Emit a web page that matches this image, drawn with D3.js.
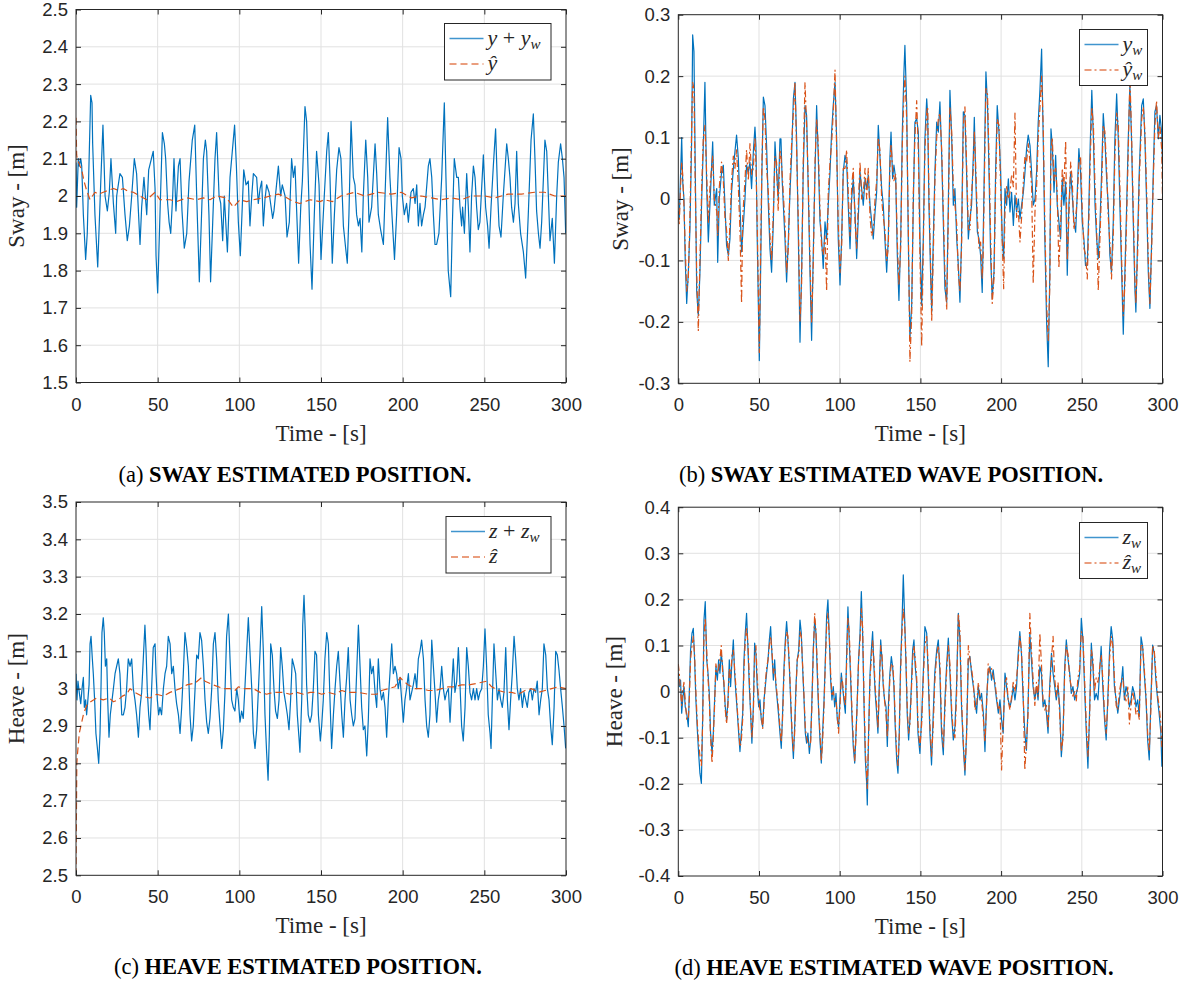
<!DOCTYPE html>
<html>
<head>
<meta charset="utf-8">
<script src="https://cdn.jsdelivr.net/npm/d3@7"></script>
<style>
body { margin: 0; background: #fff; }
</style>
</head>
<body>
<svg id="fig" width="1185" height="984"></svg>
<script>
// tick values
var timeTicks = [0, 50, 100, 150, 200, 250, 300]
var swayTicks = [1.5, 1.6, 1.7, 1.8, 1.9, 2, 2.1, 2.2, 2.3, 2.4, 2.5]
var swayWaveTicks = [-0.3, -0.2, -0.1, 0, 0.1, 0.2, 0.3]
var heaveTicks = [2.5, 2.6, 2.7, 2.8, 2.9, 3, 3.1, 3.2, 3.3, 3.4, 3.5]
var heaveWaveTicks = [-0.4, -0.3, -0.2, -0.1, 0, 0.1, 0.2, 0.3, 0.4]

// (a) measured sway y + y_w  [t, m]
var swayMeas = [[0,2.09],[0.4,1.97],[1.4,2.1],[2.0,2.08],[2.9,2.1],[3.5,2.08],[4.5,1.95],[5.9,1.83],[6.9,1.9],[9.0,2.27],[9.8,2.25],[10.2,2.14],[11.6,1.95],[13.3,1.81],[15.1,2.03],[15.7,2.1],[16.5,2.19],[17.8,2.0],[19.2,1.96],[20.4,2.01],[21.4,2.1],[22.9,1.98],[24.3,1.9],[24.9,2.0],[26.9,2.06],[28.4,2.05],[30.0,1.95],[31.4,1.88],[32.7,1.92],[34.1,2.0],[35.7,2.1],[37.1,2.06],[39.2,1.87],[40.2,1.97],[41.6,2.05],[43.3,1.95],[44.5,2.07],[47.3,2.12],[48.4,2.02],[49.0,1.84],[50.0,1.74],[51.4,1.95],[52.9,2.17],[54.1,2.14],[54.9,2.1],[56.1,1.98],[57.0,1.93],[58.0,1.9],[59.2,2.0],[60.0,2.1],[61.2,1.96],[62.7,2.08],[63.7,2.1],[64.9,1.96],[66.3,1.86],[67.8,1.9],[69.2,2.04],[71.2,2.15],[72.7,2.19],[73.9,2.0],[75.5,1.77],[76.5,1.9],[78.0,2.1],[79.2,2.15],[80.0,2.12],[81.4,1.95],[82.4,1.77],[83.7,1.93],[85.1,2.1],[86.1,2.17],[87.6,2.0],[88.6,1.98],[89.8,1.88],[90.8,2.0],[92.7,1.85],[94.3,2.05],[97.1,2.19],[98.2,2.08],[99.4,1.93],[100.6,1.84],[101.6,1.95],[102.7,2.07],[104.1,2.03],[105.5,2.04],[106.5,1.92],[107.6,2.0],[108.6,2.06],[110.6,2.05],[111.6,1.98],[112.7,2.02],[113.7,2.04],[114.7,1.92],[115.7,1.99],[116.7,2.03],[118.2,2.01],[120.4,1.94],[121.2,1.96],[123.9,2.08],[125.3,2.0],[126.3,2.03],[128.0,2.0],[129.2,1.89],[130.6,1.93],[132.0,2.1],[133.1,2.05],[134.1,2.08],[135.1,1.96],[136.3,1.82],[137.6,1.97],[138.6,2.04],[140.2,2.24],[141.2,2.2],[142.2,2.05],[143.3,1.87],[144.5,1.75],[145.9,1.95],[147.3,2.12],[148.8,2.03],[150.0,1.83],[152.0,2.0],[153.5,2.12],[154.5,2.17],[155.5,2.05],[156.9,1.82],[158.2,1.95],[159.6,2.07],[161.0,2.13],[162.2,2.1],[163.7,1.92],[165.1,1.86],[166.1,1.82],[167.1,1.95],[168.4,2.2],[169.8,2.05],[170.8,2.03],[171.8,1.95],[172.9,1.92],[173.9,1.94],[175.0,1.85],[175.9,2.0],[177.4,2.15],[178.6,2.05],[179.4,1.93],[181.0,1.97],[183.1,2.14],[184.1,2.06],[185.1,1.95],[186.5,1.91],[188.2,1.87],[189.2,2.0],[190.8,2.21],[192.2,2.05],[193.7,1.93],[195.0,1.83],[196.3,1.95],[197.8,2.13],[199.0,2.1],[199.8,2.0],[201.0,1.95],[202.4,1.98],[203.5,1.93],[205.1,2.01],[206.5,2.02],[207.6,1.98],[208.6,2.03],[209.6,1.92],[210.6,1.98],[211.6,1.92],[212.7,1.95],[213.7,1.97],[215.7,2.08],[216.7,2.1],[217.8,2.05],[218.8,1.95],[219.8,1.87],[220.8,1.87],[222.2,1.9],[223.9,2.05],[225.5,2.25],[226.5,2.05],[227.9,1.8],[229.4,1.73],[230.4,1.92],[231.6,2.1],[233.1,2.05],[234.1,2.05],[235.1,1.97],[236.1,1.92],[236.7,1.97],[237.8,1.9],[239.2,2.06],[240.2,1.97],[241.2,1.85],[242.2,2.0],[243.3,2.08],[244.3,2.05],[245.3,1.97],[246.3,1.91],[247.3,1.93],[249.4,2.11],[250.8,1.97],[252.0,1.92],[252.9,1.86],[254.1,1.97],[255.5,2.08],[256.9,2.18],[258.2,2.0],[259.0,1.92],[260.2,1.89],[261.6,2.0],[263.7,2.14],[264.7,2.1],[265.7,2.05],[266.7,1.97],[267.8,1.93],[268.8,1.98],[269.8,2.12],[270.8,1.98],[272.2,1.9],[273.9,1.85],[275.3,1.78],[276.9,1.95],[278.6,2.15],[280.0,2.22],[281.0,2.1],[282.0,1.96],[283.1,1.9],[284.1,1.86],[285.1,1.93],[287.1,2.15],[288.2,2.12],[289.2,2.0],[290.2,1.88],[291.6,1.94],[292.9,1.82],[294.3,2.0],[295.3,2.09],[296.7,2.14],[297.8,2.1],[298.8,2.05],[299.8,1.9]]

// (a) estimated sway y-hat
var swayHat = [[0,2.21],[0.4,2.11],[0.8,2.1],[2.5,2.08],[3.5,2.07],[4.9,2.04],[6.5,2.015],[8.6,1.99],[11.6,2.01],[14.0,2.005],[16.7,2.01],[19.5,2.015],[22.9,2.02],[26.0,2.015],[29,2.02],[32.0,2.012],[35.1,2.01],[39.2,2.0],[43.3,1.99],[48.4,2.01],[51.4,1.99],[57.6,1.99],[61.6,1.985],[67.8,1.995],[73.9,1.99],[78.0,1.995],[82,1.99],[86.1,2.0],[92.2,1.995],[96.3,1.97],[100.4,1.99],[104.5,1.985],[108.6,1.99],[114.7,1.995],[118.8,2.0],[123.9,2.005],[127,2.0],[133.1,1.985],[137.1,1.98],[143.3,1.99],[149.4,1.985],[152.0,1.99],[157.1,1.985],[162.2,2.0],[166.3,2.005],[170.6,2.01],[176.7,2.0],[180.8,2.005],[184.9,2.01],[193.1,2.005],[199.2,2.01],[205.3,1.995],[211.4,2.0],[217.6,1.995],[223.7,1.99],[229.8,1.995],[235.9,1.99],[242,2.0],[250.2,2.0],[256.3,1.995],[264.5,2.005],[272.7,2.005],[280.8,2.01],[286.9,2.01],[293.1,2.0],[300,2.0]]

// (b) wave sway: t, y_w, y_w-hat
var swayWave = [[0,-0.02,-0.03],[0.6,-0.03,-0.04],[1.4,0.04,0.02],[2.1,0.10,0.06],[2.7,0.03,0.04],[3.5,0.0,-0.01],[4.3,-0.10,-0.08],[5.2,-0.17,-0.15],[6.2,-0.12,-0.13],[7.2,-0.05,-0.03],[8.3,0.10,0.12],[8.9,0.267,0.19],[9.7,0.24,0.18],[10.5,0.05,0.02],[11.4,-0.15,-0.12],[12.4,-0.19,-0.215],[13.4,-0.12,-0.1],[14.5,0.0,0.02],[15.5,0.087,0.1],[16.5,0.19,0.12],[17.6,0.017,0.04],[18.6,-0.07,-0.04],[19.6,-0.01,0.02],[21.3,0.093,0.07],[22.3,-0.01,0.0],[23.8,0.017,-0.02],[24.4,-0.103,-0.06],[25.4,0.0,0.02],[26.8,0.044,0.06],[27.9,0.055,0.03],[28.9,-0.01,-0.03],[29.9,-0.075,-0.05],[31.0,-0.092,-0.1],[32.0,-0.065,-0.04],[33.0,0.011,0.03],[34.1,0.049,0.07],[35.1,0.077,0.05],[36.1,0.104,0.08],[37.2,0.066,0.02],[38.2,-0.01,-0.05],[39.2,-0.086,-0.17],[39.9,-0.059,-0.03],[41.3,0.0,0.03],[42.3,0.055,0.08],[43.4,0.044,0.03],[44.4,0.06,0.09],[45.4,0.017,0.04],[46.5,0.077,0.05],[47.5,0.117,0.1],[48.1,0.087,0.06],[48.9,-0.065,-0.04],[49.6,-0.173,-0.15],[50.2,-0.263,-0.25],[51.0,-0.119,-0.09],[51.8,0.044,0.06],[52.7,0.166,0.15],[53.7,0.152,0.13],[54.7,0.087,0.05],[55.8,-0.01,0.01],[56.8,-0.081,-0.06],[57.8,-0.119,-0.1],[58.9,-0.037,-0.02],[59.9,0.093,0.07],[60.9,0.044,0.06],[61.9,0.0,-0.02],[63.0,0.098,0.08],[63.6,0.098,0.07],[64.4,0.028,0.04],[66.1,-0.065,-0.04],[67.1,-0.135,-0.12],[68.2,-0.065,-0.08],[69.2,0.011,0.03],[70.2,0.071,0.09],[71.3,0.163,0.14],[72.3,0.19,0.19],[73.3,0.098,0.08],[74.4,-0.065,-0.04],[75.4,-0.233,-0.2],[76.4,-0.119,-0.14],[77.4,0.044,0.06],[78.5,0.152,0.19],[79.5,0.136,0.12],[80.5,0.017,0.03],[81.6,-0.119,-0.1],[82.6,-0.23,-0.2],[83.6,-0.092,-0.11],[84.7,0.044,0.06],[85.7,0.152,0.13],[86.7,0.071,0.09],[87.8,-0.037,-0.02],[88.8,-0.065,-0.08],[89.8,-0.113,-0.09],[90.9,-0.037,-0.06],[91.9,-0.065,-0.15],[92.9,-0.01,0.01],[94.0,0.044,0.06],[95.0,0.109,0.09],[96.0,0.152,0.14],[97.1,0.19,0.21],[98.1,0.098,0.08],[99.1,-0.065,-0.04],[100.2,-0.14,-0.12],[101.2,-0.065,-0.08],[102.2,0.044,0.05],[103.3,0.071,0.05],[104.3,0.06,0.08],[105.3,-0.01,0.01],[106.4,-0.081,-0.06],[107.4,0.0,0.02],[108.4,0.033,0.05],[109.5,-0.021,-0.04],[110.5,-0.097,-0.08],[111.5,-0.032,-0.01],[112.6,0.044,0.06],[113.6,0.017,0.0],[114.6,-0.01,0.01],[115.7,0.033,0.05],[116.7,0.017,0.0],[117.7,0.039,0.05],[118.8,-0.01,-0.03],[119.8,-0.037,-0.06],[120.8,-0.065,-0.05],[121.9,-0.021,0.0],[122.9,0.011,0.03],[123.9,0.12,0.1],[124.9,0.071,0.08],[126.0,0.017,0.0],[127.0,-0.01,-0.03],[128.0,-0.065,-0.05],[129.1,-0.119,-0.1],[130.1,-0.065,-0.08],[131.1,0.066,0.05],[131.8,0.109,0.09],[132.8,0.033,0.05],[133.6,0.055,0.03],[134.7,0.033,0.04],[135.7,-0.092,-0.07],[136.7,-0.165,-0.14],[137.8,-0.065,-0.08],[138.8,0.109,0.09],[139.8,0.207,0.17],[140.4,0.25,0.2],[141.5,0.152,0.13],[142.5,-0.065,-0.04],[143.5,-0.227,-0.265],[144.6,-0.173,-0.19],[145.6,-0.01,0.01],[146.6,0.125,0.1],[147.7,0.131,0.16],[148.7,0.109,0.08],[149.7,-0.065,-0.09],[150.8,-0.173,-0.24],[151.8,-0.065,-0.08],[152.8,0.098,0.08],[153.9,0.163,0.14],[154.5,0.136,0.15],[155.3,-0.01,0.01],[156.3,-0.119,-0.1],[157.0,-0.184,-0.2],[158.0,-0.065,-0.09],[159.0,0.044,0.03],[160.1,0.125,0.1],[161.1,0.109,0.13],[162.1,0.158,0.14],[163.2,0.071,0.08],[164.2,-0.037,-0.02],[165.2,-0.146,-0.12],[166.3,-0.168,-0.18],[167.3,-0.01,-0.03],[168.3,0.177,0.15],[169.4,0.098,0.11],[170.4,-0.01,0.02],[171.4,0.017,-0.01],[172.5,-0.065,-0.04],[173.5,-0.108,-0.12],[174.5,-0.168,-0.15],[175.5,-0.065,-0.08],[176.6,0.142,0.12],[177.6,0.136,0.15],[178.6,0.044,0.06],[179.7,-0.065,-0.05],[180.7,-0.032,-0.05],[181.7,-0.01,0.01],[182.8,0.071,0.05],[183.4,0.133,0.11],[184.2,0.044,0.06],[185.3,-0.054,-0.03],[186.3,-0.065,-0.08],[187.3,-0.092,-0.07],[188.3,-0.152,-0.13],[188.9,-0.065,-0.09],[189.9,0.098,0.07],[190.6,0.207,0.18],[191.6,0.152,0.17],[192.5,0.044,0.07],[193.5,-0.092,-0.06],[194.5,-0.162,-0.17],[195.6,-0.119,-0.13],[196.6,0.044,0.02],[197.6,0.152,0.13],[198.7,0.109,0.12],[199.7,0.044,0.02],[200.7,-0.065,-0.07],[201.6,-0.097,-0.146],[202.4,0.017,-0.02],[203.4,-0.01,0.02],[204.5,0.033,0.0],[205.5,-0.021,0.01],[206.5,0.011,0.04],[207.6,-0.043,0.02],[208.6,0.006,0.14],[209.6,-0.021,-0.03],[210.7,0.0,-0.02],[211.7,-0.032,-0.07],[212.7,-0.01,-0.03],[213.8,0.011,0.03],[214.8,0.044,0.07],[215.8,0.082,0.06],[216.8,0.104,0.09],[217.9,0.087,0.06],[218.9,0.044,0.02],[219.9,-0.01,-0.138],[221.0,0.0,-0.02],[222.0,0.044,0.02],[223.0,0.125,0.1],[224.1,0.179,0.15],[225.1,0.244,0.2],[226.1,0.098,0.12],[227.1,-0.065,-0.04],[228.2,-0.2,-0.17],[229.2,-0.273,-0.23],[230.2,-0.119,-0.14],[230.9,0.114,0.08],[231.7,0.087,0.1],[232.8,0.011,0.03],[233.8,0.071,0.05],[234.8,-0.01,0.01],[235.8,-0.037,-0.113],[236.9,-0.065,-0.04],[237.9,0.033,0.05],[238.9,-0.01,0.02],[240.0,0.028,0.095],[241.0,-0.124,-0.1],[242.0,-0.01,-0.03],[243.1,0.044,0.06],[244.1,0.006,0.03],[245.1,-0.037,-0.05],[246.2,-0.054,-0.03],[247.2,0.011,0.0],[248.2,0.082,0.06],[249.2,0.044,0.07],[250.3,-0.037,-0.02],[251.3,-0.065,-0.08],[252.3,-0.108,-0.09],[253.4,-0.108,-0.13],[254.4,-0.01,-0.03],[255.2,0.087,0.06],[256.2,0.177,0.15],[257.2,0.098,0.12],[258.2,-0.01,0.02],[259.2,-0.065,-0.05],[260.2,-0.097,-0.149],[261.3,-0.037,-0.06],[262.3,0.044,0.02],[263.3,0.139,0.12],[264.3,0.098,0.11],[265.4,0.033,0.05],[266.4,-0.01,-0.03],[267.4,-0.092,-0.07],[268.4,-0.119,-0.13],[269.5,-0.037,-0.06],[270.5,0.098,0.07],[271.6,0.171,0.14],[272.6,0.098,0.12],[273.6,-0.01,0.02],[274.7,-0.119,-0.1],[275.7,-0.22,-0.19],[276.7,-0.119,-0.14],[277.8,-0.01,-0.03],[278.8,0.098,0.08],[279.8,0.185,0.2],[280.8,0.098,0.11],[281.9,-0.037,-0.02],[282.9,-0.146,-0.13],[283.5,-0.184,-0.17],[284.6,-0.065,-0.09],[285.6,0.044,0.03],[287.1,0.152,0.13],[288.1,0.163,0.15],[289.1,0.098,0.11],[290.2,-0.01,0.01],[291.2,-0.119,-0.1],[292.2,-0.178,-0.17],[293.3,-0.065,-0.08],[294.3,0.044,0.03],[295.3,0.142,0.12],[296.3,0.152,0.16],[297.4,0.098,0.1],[298.4,0.136,0.12],[299.5,0.109,0.08],[300.0,0.055,0.0]]

// (c) measured heave z + z_w
var heaveMeas = [[0,3.04],[0.6,2.97],[1.2,3.02],[2.0,2.99],[2.9,2.96],[3.7,3.0],[4.5,3.03],[5.1,2.95],[5.9,2.97],[6.5,2.93],[7.1,2.96],[8.0,3.01],[8.6,3.12],[9.2,3.14],[10.0,3.08],[10.6,3.04],[11.4,2.97],[12.2,2.88],[13.1,2.84],[13.9,2.8],[14.7,2.88],[15.3,3.0],[15.9,3.15],[16.7,3.19],[17.3,3.15],[18.0,3.06],[18.8,3.08],[19.4,2.97],[20.2,2.87],[21.0,2.93],[21.8,2.96],[22.9,3.0],[23.9,3.04],[24.9,3.06],[25.9,3.08],[26.9,3.04],[28.0,2.93],[29.0,2.93],[30.0,2.95],[31.0,3.0],[32.0,3.08],[33.1,3.06],[34.1,3.08],[35.1,3.0],[36.1,2.97],[37.1,2.93],[38.2,2.87],[39.2,2.95],[40.2,2.99],[41.2,3.08],[42.2,3.17],[42.9,3.1],[43.7,2.99],[44.5,2.93],[45.3,2.89],[46.3,3.0],[47.3,3.11],[48.4,3.12],[49.0,3.04],[49.8,2.97],[50.6,2.93],[51.4,2.95],[52.4,2.93],[53.5,3.0],[54.5,3.04],[55.5,3.06],[56.5,3.14],[57.6,3.12],[58.6,3.04],[59.6,3.06],[60.6,3.0],[61.6,2.96],[62.7,2.93],[63.7,2.88],[64.7,2.95],[65.7,3.04],[66.7,3.15],[67.8,3.11],[68.8,3.06],[69.8,2.93],[70.8,2.86],[71.8,2.9],[72.9,3.0],[73.9,3.09],[74.9,3.08],[75.9,3.15],[76.9,3.13],[78.0,3.06],[79.0,2.97],[80.0,2.91],[81.0,2.88],[82.0,2.92],[83.1,3.0],[84.1,3.12],[85.1,3.15],[86.1,3.08],[87.1,2.97],[88.2,2.9],[89.2,2.84],[90.2,2.89],[91.2,2.99],[92.2,3.14],[93.3,3.2],[94.3,3.08],[95.3,2.97],[96.3,2.95],[97.3,2.94],[98.4,3.0],[99.4,2.97],[100.4,2.91],[101.4,2.94],[102.4,2.92],[103.5,3.01],[104.5,3.1],[105.5,3.19],[106.5,3.1],[107.6,3.0],[108.6,2.88],[109.6,2.84],[110.6,2.89],[111.6,2.99],[112.7,3.1],[113.7,3.22],[114.7,3.1],[115.7,2.93],[116.7,2.83],[117.6,2.755],[118.4,2.88],[119.2,3.12],[120.2,3.09],[121.2,3.0],[122.2,2.94],[123.3,2.92],[124.3,2.97],[125.3,3.11],[126.3,3.06],[127.3,2.99],[128.4,2.96],[129.4,2.93],[130.4,2.89],[131.4,2.97],[132.4,3.08],[133.5,3.06],[134.5,3.04],[135.5,2.93],[136.5,2.87],[137.1,2.83],[138.2,2.97],[138.8,3.17],[139.6,3.25],[140.4,3.15],[141.2,3.01],[142.2,2.93],[143.3,2.91],[144.3,2.93],[145.3,3.0],[146.3,3.1],[147.3,3.09],[148.4,2.93],[149.6,2.86],[150.4,2.9],[151.4,2.97],[152.4,3.08],[153.5,3.15],[154.5,3.12],[155.5,2.97],[156.5,2.84],[157.6,2.93],[158.6,3.0],[159.6,3.06],[160.6,3.1],[161.6,3.02],[162.7,2.93],[163.7,2.87],[164.7,2.97],[165.7,3.03],[166.7,3.11],[167.8,2.97],[168.8,2.93],[169.8,2.9],[170.8,2.92],[171.8,3.04],[172.9,3.17],[173.9,3.06],[174.9,2.95],[175.9,2.89],[176.9,2.9],[178.0,2.82],[179.0,2.92],[180.0,3.08],[181.0,3.04],[182.0,3.06],[183.1,2.99],[184.1,2.95],[185.1,3.08],[186.1,3.0],[187.1,2.97],[188.2,2.99],[189.2,2.95],[190.2,2.87],[191.2,2.97],[192.2,3.04],[193.3,3.12],[194.3,3.04],[195.3,3.06],[196.3,3.04],[197.3,3.0],[198.4,3.03],[199.4,2.97],[200.4,2.91],[201.4,2.97],[202.4,3.0],[203.5,3.04],[204.5,2.97],[205.5,2.99],[206.5,3.01],[207.6,3.04],[208.6,3.0],[209.6,3.08],[210.6,3.1],[211.6,3.13],[212.7,3.08],[213.7,2.97],[214.7,2.9],[215.7,2.87],[216.7,2.93],[217.8,3.13],[218.8,3.06],[219.8,2.99],[220.8,2.91],[221.8,2.97],[222.9,3.0],[223.9,3.06],[224.9,3.0],[225.9,2.97],[226.9,2.99],[228.0,3.0],[229.0,2.91],[230.0,3.0],[231.0,3.08],[232.0,2.99],[233.1,3.02],[234.1,3.11],[235.1,3.01],[236.1,2.9],[237.1,2.86],[238.2,2.95],[239.2,3.11],[240.2,3.06],[241.2,2.99],[242.2,2.97],[243.3,3.0],[244.3,2.97],[245.3,3.0],[246.3,2.97],[247.3,2.99],[248.4,3.0],[249.4,3.06],[250.4,3.16],[251.4,3.06],[252.4,2.93],[253.5,2.88],[254.1,2.84],[254.9,2.97],[255.9,3.12],[257.0,3.04],[258.0,2.97],[259.0,3.0],[260.0,2.97],[261.0,2.95],[262.0,2.99],[263.1,3.11],[264.1,2.97],[265.1,2.89],[266.1,2.97],[267.1,3.04],[268.2,3.14],[269.2,3.08],[270.2,3.0],[271.2,2.97],[272.2,3.0],[273.3,2.95],[274.3,2.99],[275.3,2.97],[276.3,2.95],[277.3,2.99],[278.4,3.0],[279.4,2.97],[280.4,3.0],[281.4,2.99],[282.4,3.02],[283.5,2.93],[284.5,2.97],[285.5,3.0],[286.5,3.12],[287.6,3.09],[288.6,3.0],[289.6,2.97],[290.6,2.9],[291.6,2.85],[292.7,2.95],[293.7,3.1],[294.7,3.09],[295.7,3.05],[296.7,3.0],[297.8,2.95],[298.8,2.9],[299.8,2.84]]

// (c) estimated heave z-hat
var heaveHat = [[0,2.5],[0.5,2.8],[1.0,2.83],[2.0,2.88],[3.0,2.9],[4.5,2.93],[6.5,2.955],[9,2.965],[12.6,2.975],[16.7,2.97],[20.4,2.975],[22.9,2.965],[25.9,2.97],[28.4,2.98],[31.0,2.985],[33.1,3.0],[36.1,2.99],[40.2,2.98],[45.3,2.975],[49.4,2.985],[53.5,2.98],[57.6,2.99],[63.7,3.0],[67.8,3.01],[72.9,3.015],[76.9,3.03],[79.0,3.02],[84.1,3.01],[90.2,3.0],[94.3,3.0],[97.3,2.995],[99.4,3.005],[102.4,3.0],[108.6,3.0],[112.7,2.99],[116.7,2.985],[120.8,2.99],[126.9,2.99],[131.0,2.985],[135.1,2.99],[139.2,2.985],[143.3,2.99],[147.3,2.99],[150.4,2.985],[154.5,2.99],[158.6,2.985],[162.7,2.995],[166.7,2.99],[172.9,2.99],[179.0,2.985],[184.1,2.985],[187.1,2.995],[191.2,3.0],[195.3,3.005],[198.4,3.03],[200.4,3.02],[203.5,3.01],[207.6,3.0],[211.6,3.0],[215.7,2.995],[219.8,2.995],[223.9,3.0],[228.0,3.005],[232.0,3.005],[236.1,3.01],[240.2,3.01],[246.3,3.015],[251.4,3.02],[254.5,3.005],[258.6,2.995],[262.7,2.99],[266.7,2.99],[270.8,2.985],[274.9,2.995],[279.0,3.0],[283.1,2.99],[287.1,2.995],[291.2,3.0],[295.3,3.005],[300,3.0]]

// (d) wave heave: t, z_w, z_w-hat
var heaveWave = [[0,0.04,0.06],[0.6,0.011,0.04],[1.4,0.025,0.0],[2.1,-0.047,-0.03],[2.7,-0.018,0.0],[3.5,0.011,0.02],[4.3,-0.033,-0.02],[5.2,-0.047,-0.06],[6.2,-0.076,-0.06],[6.8,-0.004,-0.02],[7.6,0.09,0.07],[8.5,0.127,0.1],[9.3,0.137,0.12],[10.1,0.069,0.08],[10.9,-0.018,0.0],[11.8,-0.083,-0.07],[12.6,-0.134,-0.11],[13.4,-0.177,-0.14],[14.3,-0.199,-0.16],[15.1,-0.054,-0.07],[15.9,0.155,0.12],[16.7,0.195,0.16],[17.6,0.069,0.09],[18.4,0.04,0.03],[19.2,-0.004,-0.02],[20.0,-0.09,-0.1],[20.9,-0.134,-0.155],[21.7,-0.09,-0.1],[22.5,-0.018,-0.03],[23.3,0.054,0.06],[24.2,0.025,0.04],[25.0,0.069,0.05],[25.8,0.04,0.07],[26.6,0.083,0.1],[27.5,0.054,0.04],[28.3,0.011,0.02],[29.1,-0.033,-0.04],[29.9,-0.061,-0.07],[30.8,-0.018,-0.03],[31.6,0.069,0.05],[32.4,0.011,0.03],[33.3,0.069,0.08],[34.1,0.112,0.09],[34.9,0.04,0.05],[35.7,-0.004,0.01],[36.6,-0.047,-0.04],[37.4,-0.09,-0.08],[38.2,-0.13,-0.12],[39.0,-0.09,-0.11],[39.9,-0.047,-0.06],[40.7,0.069,0.05],[41.5,0.127,0.11],[42.3,0.17,0.14],[43.2,0.09,0.1],[44.0,0.011,0.03],[44.8,-0.047,-0.04],[45.6,-0.112,-0.1],[46.5,-0.033,-0.05],[47.3,0.105,0.08],[48.1,0.083,0.1],[48.9,0.011,0.03],[49.8,-0.033,-0.02],[50.6,-0.018,-0.04],[51.4,-0.061,-0.05],[52.3,-0.076,-0.08],[53.1,-0.018,-0.03],[53.9,0.011,0.02],[54.7,0.04,0.05],[55.6,0.069,0.07],[56.4,0.112,0.1],[57.2,0.141,0.12],[58.0,0.083,0.09],[58.9,0.025,0.04],[59.7,0.069,0.05],[60.5,0.011,0.02],[61.3,-0.018,-0.01],[62.2,-0.054,-0.04],[63.0,-0.09,-0.08],[63.8,-0.123,-0.11],[64.6,-0.047,-0.06],[65.5,0.054,0.04],[66.3,0.112,0.1],[67.1,0.152,0.13],[67.9,0.112,0.12],[68.8,0.054,0.06],[69.6,-0.018,-0.01],[70.4,-0.09,-0.08],[71.3,-0.145,-0.13],[72.1,-0.076,-0.09],[72.9,0.011,0.0],[73.7,0.069,0.07],[74.6,0.09,0.08],[75.4,0.155,0.13],[76.2,0.127,0.12],[77.0,0.054,0.06],[77.9,-0.018,-0.01],[78.7,-0.09,-0.08],[79.5,-0.112,-0.1],[80.3,-0.09,-0.11],[81.2,-0.134,-0.12],[82.0,-0.105,-0.11],[82.8,-0.018,-0.03],[83.6,0.09,0.08],[84.5,0.155,0.17],[85.3,0.127,0.13],[86.1,0.04,0.06],[87.0,-0.047,-0.04],[87.8,-0.105,-0.09],[88.6,-0.155,-0.15],[89.4,-0.09,-0.11],[90.3,-0.018,-0.03],[91.1,0.069,0.06],[91.9,0.163,0.14],[92.7,0.199,0.17],[93.6,0.112,0.12],[94.4,0.025,0.04],[95.2,-0.018,-0.01],[96.0,0.011,0.0],[96.9,-0.033,-0.02],[97.7,-0.004,-0.02],[98.5,-0.061,-0.05],[99.3,-0.076,-0.09],[100.2,-0.018,-0.03],[101.0,0.04,0.03],[101.8,0.011,0.02],[102.6,-0.018,-0.01],[103.5,-0.047,-0.03],[104.3,0.083,0.06],[105.1,0.184,0.16],[105.9,0.112,0.13],[106.8,0.025,0.04],[107.6,-0.054,-0.04],[108.4,-0.119,-0.1],[109.3,-0.155,-0.15],[110.1,-0.09,-0.1],[110.9,-0.018,-0.02],[111.7,0.069,0.07],[112.6,0.127,0.11],[113.4,0.217,0.18],[114.2,0.127,0.14],[115.0,-0.018,0.0],[115.9,-0.148,-0.13],[116.7,-0.199,-0.18],[117.1,-0.246,-0.21],[117.9,-0.09,-0.1],[118.8,0.04,0.03],[119.6,0.09,0.07],[120.4,0.13,0.11],[121.2,0.054,0.07],[122.0,-0.004,0.01],[122.9,-0.047,-0.03],[123.7,-0.09,-0.08],[124.5,0.011,0.0],[125.4,0.112,0.1],[126.2,0.069,0.08],[127.0,0.011,0.02],[127.8,-0.018,-0.02],[128.7,-0.033,-0.05],[129.5,-0.119,-0.1],[130.3,-0.018,-0.04],[131.1,0.04,0.03],[132.0,0.076,0.06],[132.8,0.054,0.06],[133.6,0.011,0.02],[134.4,-0.076,-0.06],[135.3,-0.148,-0.13],[136.1,-0.177,-0.16],[136.9,-0.09,-0.1],[137.7,0.054,0.04],[138.6,0.148,0.13],[139.4,0.253,0.18],[140.2,0.163,0.15],[141.1,0.054,0.07],[141.9,-0.054,-0.04],[142.7,-0.105,-0.09],[143.5,-0.061,-0.07],[144.4,0.011,0.0],[145.2,0.09,0.07],[146.0,0.112,0.1],[146.8,0.054,0.07],[147.7,0.018,0.03],[148.5,-0.09,-0.07],[149.7,-0.134,-0.12],[150.8,-0.054,-0.07],[151.8,0.04,0.03],[152.8,0.141,0.1],[153.9,0.127,0.12],[154.8,0.04,0.06],[155.9,-0.09,-0.07],[156.9,-0.159,-0.14],[157.9,-0.054,-0.08],[158.9,0.04,0.02],[160.1,0.09,0.08],[161.1,0.112,0.1],[162.1,0.04,0.06],[163.1,-0.09,-0.07],[164.2,-0.137,-0.12],[165.2,-0.018,-0.04],[166.2,0.054,0.04],[167.3,0.116,0.1],[168.3,0.04,0.06],[169.4,-0.054,-0.04],[170.4,-0.105,-0.09],[171.4,-0.076,-0.1],[172.4,0.011,-0.01],[173.5,0.17,0.17],[174.5,0.112,0.13],[175.5,-0.033,-0.02],[176.6,-0.119,-0.11],[177.6,-0.181,-0.17],[178.6,-0.09,-0.1],[179.7,0.069,0.1],[180.7,0.076,0.07],[181.7,0.04,0.05],[182.8,0.011,0.02],[183.8,-0.018,-0.04],[184.8,-0.047,-0.03],[185.9,0.011,0.02],[186.9,-0.018,-0.01],[187.9,-0.004,-0.02],[189.0,-0.047,-0.06],[190.0,-0.13,-0.11],[191.0,-0.018,-0.03],[192.0,0.04,0.06],[193.1,0.054,0.04],[194.1,0.025,0.05],[195.1,0.047,0.03],[196.2,0.011,0.02],[197.2,-0.018,-0.01],[198.3,-0.047,-0.04],[199.3,-0.018,-0.03],[200.3,-0.061,-0.17],[201.3,-0.09,-0.07],[202.4,0.04,0.02],[203.4,0.011,0.03],[204.4,-0.018,-0.02],[205.5,-0.033,-0.04],[206.5,-0.018,-0.01],[207.5,0.011,0.02],[208.6,-0.018,0.0],[209.6,0.011,0.03],[210.6,0.083,0.07],[211.6,0.13,0.12],[212.6,0.083,0.09],[213.7,-0.018,0.0],[214.7,-0.09,-0.17],[215.7,-0.127,-0.11],[216.7,-0.033,-0.05],[217.8,0.127,0.17],[218.8,0.069,0.09],[219.8,0.011,0.03],[220.9,-0.018,-0.03],[221.9,0.011,0.02],[222.9,-0.018,-0.01],[224.0,0.054,0.127],[225.0,0.04,0.06],[226.0,-0.033,-0.02],[227.1,-0.018,-0.04],[228.1,-0.047,-0.03],[229.1,-0.09,-0.08],[230.1,0.011,0.0],[231.2,0.083,0.07],[232.2,0.04,0.12],[233.2,0.011,0.03],[234.2,-0.018,-0.01],[235.3,0.011,0.02],[236.3,-0.033,-0.05],[237.3,-0.141,-0.13],[238.4,-0.09,-0.1],[239.4,0.054,0.04],[240.4,0.112,0.1],[241.5,0.069,0.08],[242.5,0.04,0.03],[243.5,-0.004,0.01],[244.5,0.011,-0.01],[245.6,-0.018,0.0],[246.6,-0.004,-0.02],[247.6,0.011,0.03],[248.7,0.04,0.05],[249.7,0.159,0.13],[250.7,0.112,0.12],[251.7,0.011,0.03],[252.8,-0.09,-0.07],[253.8,-0.166,-0.14],[254.8,-0.047,-0.06],[255.9,0.105,0.09],[256.9,0.054,0.07],[257.9,-0.018,0.0],[258.9,-0.004,0.03],[260.0,-0.018,0.02],[261.0,0.04,0.05],[262.0,0.098,0.08],[263.0,0.011,0.03],[264.1,-0.061,-0.05],[265.1,-0.105,-0.09],[266.1,-0.018,-0.03],[267.2,0.09,0.07],[268.2,0.141,0.12],[269.2,0.112,0.1],[270.2,0.011,0.03],[271.3,-0.018,-0.03],[272.3,-0.047,-0.04],[273.3,-0.018,0.0],[274.3,0.011,0.02],[275.4,0.054,0.03],[276.4,-0.018,-0.01],[277.4,0.011,-0.02],[278.5,-0.004,0.01],[279.5,-0.033,-0.07],[280.5,-0.018,-0.03],[281.5,0.011,0.0],[282.6,-0.004,-0.02],[283.6,-0.033,-0.05],[284.6,-0.018,-0.04],[285.6,-0.054,-0.06],[286.7,0.119,0.1],[287.7,0.098,0.1],[288.7,0.04,0.05],[289.8,-0.018,-0.01],[290.8,-0.105,-0.09],[291.8,-0.148,-0.13],[292.8,-0.018,-0.04],[293.9,0.101,0.1],[294.9,0.083,0.09],[295.9,0.025,0.04],[297.0,-0.018,-0.01],[297.9,-0.047,-0.03],[299.0,-0.09,-0.07],[299.6,-0.163,-0.12]]

var blue = "#0072BD"
var orange = "#D95319"
var ink = "#262626"
var sansFont = "'Liberation Sans', Arial, Helvetica, sans-serif"
var serifFont = "'Liberation Serif', 'Times New Roman', serif"

var svg = d3.select("#fig")
svg.append("rect").attr("width", 1185).attr("height", 984).attr("fill", "#fff")

function fmt(v) {
	return String(Math.round(v * 10) / 10)
}

function drawPanel(p) {
	var x = d3.scaleLinear().domain([0, 300]).range([p.left, p.right])
	var y = d3.scaleLinear().domain([p.ticks[0], p.ticks[p.ticks.length - 1]]).range([p.bottom, p.top])
	var g = svg.append("g")

	svg.append("clipPath").attr("id", "clip-" + p.id)
		.append("rect")
		.attr("x", p.left).attr("y", p.top)
		.attr("width", p.right - p.left).attr("height", p.bottom - p.top)

	// grid
	g.append("g").selectAll("line").data(timeTicks.slice(1, -1)).join("line")
		.attr("x1", function(d) { return x(d) }).attr("x2", function(d) { return x(d) })
		.attr("y1", p.top).attr("y2", p.bottom)
		.attr("stroke", "#e1e1e1").attr("stroke-width", 1)
	g.append("g").selectAll("line").data(p.ticks.slice(1, -1)).join("line")
		.attr("y1", function(d) { return y(d) }).attr("y2", function(d) { return y(d) })
		.attr("x1", p.left).attr("x2", p.right)
		.attr("stroke", "#e1e1e1").attr("stroke-width", 1)

	// series
	var plot = g.append("g").attr("clip-path", "url(#clip-" + p.id + ")")
	p.series.forEach(function(s) {
		var line = d3.line()
			.x(function(d) { return x(d[0]) })
			.y(function(d) { return y(d[s.col]) })
		plot.append("path").datum(s.data)
			.attr("d", line)
			.attr("fill", "none")
			.attr("stroke", s.color)
			.attr("stroke-width", 1.2)
			.attr("stroke-linejoin", "round")
			.attr("stroke-dasharray", s.dash || null)
	})

	// axes, ticks pointing inwards on all four sides
	var ax = []
	ax.push(g.append("g").attr("transform", "translate(0," + p.bottom + ")")
		.call(d3.axisBottom(x).tickValues(timeTicks).tickSize(-5).tickPadding(15).tickFormat(fmt)))
	ax.push(g.append("g").attr("transform", "translate(0," + p.top + ")")
		.call(d3.axisTop(x).tickValues(timeTicks).tickSize(-5).tickFormat("")))
	ax.push(g.append("g").attr("transform", "translate(" + p.left + ",0)")
		.call(d3.axisLeft(y).tickValues(p.ticks).tickSize(-5).tickPadding(8).tickFormat(fmt)))
	ax.push(g.append("g").attr("transform", "translate(" + p.right + ",0)")
		.call(d3.axisRight(y).tickValues(p.ticks).tickSize(-5).tickFormat("")))
	ax.forEach(function(a) {
		a.select(".domain").remove()
		a.selectAll(".tick line").attr("stroke", ink)
		a.selectAll("text").attr("fill", ink)
			.style("font-family", sansFont).style("font-size", "18.5px")
	})

	g.append("rect")
		.attr("x", p.left).attr("y", p.top)
		.attr("width", p.right - p.left).attr("height", p.bottom - p.top)
		.attr("fill", "none").attr("stroke", ink).attr("stroke-width", 1)

	// axis labels
	g.append("text")
		.attr("x", (p.left + p.right) / 2).attr("y", p.bottom + 58)
		.attr("text-anchor", "middle").attr("fill", ink)
		.style("font-family", serifFont).style("font-size", "23px")
		.text("Time - [s]")
	g.append("text")
		.attr("transform", "translate(" + p.ylabelX + "," + (p.top + p.bottom) / 2 + ") rotate(-90)")
		.attr("text-anchor", "middle").attr("fill", ink)
		.style("font-family", serifFont).style("font-size", "23px")
		.text(p.ylabel)

	// caption
	var cap = g.append("text")
		.attr("x", p.captionX).attr("y", p.bottom + 99)
		.attr("text-anchor", "middle").attr("fill", "#000")
		.style("font-family", serifFont).style("font-size", "22.5px")
	cap.append("tspan").text(p.captionTag + " ")
	cap.append("tspan").attr("font-weight", "bold").text(p.caption)

	drawLegend(g, p.legend)
}

function drawLegend(g, L) {
	var box = g.append("g")
	box.append("rect")
		.attr("x", L.x).attr("y", L.y).attr("width", L.w).attr("height", L.h)
		.attr("fill", "#fff").attr("stroke", ink).attr("stroke-width", 1)
	L.items.forEach(function(it, i) {
		var ly = L.y + 15 + i * 25.5
		box.append("line")
			.attr("x1", L.x + 5).attr("x2", L.x + 39).attr("y1", ly).attr("y2", ly)
			.attr("stroke", it.color).attr("stroke-width", 1.4).attr("stroke-opacity", 0.75)
			.attr("stroke-dasharray", it.dash || null)
		var t = box.append("text")
			.attr("x", L.x + 43).attr("y", ly + 6).attr("fill", ink)
			.style("font-family", serifFont).style("font-size", "22px")
		it.parts.forEach(function(pt) {
			var s = t.append("tspan").text(pt.s)
			if (pt.it) s.attr("font-style", "italic")
			if (pt.sub) s.attr("font-size", "15px").attr("dy", 4)
			if (pt.up) s.attr("dy", -4)
		})
	})
}

var dashed = "7,4"
var dashDot = "7,3,2,3"

drawPanel({
	id: "a", left: 76, right: 566, top: 9.5, bottom: 382.5, ticks: swayTicks,
	ylabel: "Sway - [m]", ylabelX: 24, captionX: 295, captionTag: "(a)",
	caption: "SWAY ESTIMATED POSITION.",
	series: [
		{data: swayMeas, col: 1, color: blue},
		{data: swayHat, col: 1, color: orange, dash: dashed}
	],
	legend: {x: 444.5, y: 23.5, w: 106.5, h: 56.5, items: [
		{color: blue, parts: [{s: "y", it: 1}, {s: " + "}, {s: "y", it: 1}, {s: "w", it: 1, sub: 1}]},
		{color: orange, dash: dashed, parts: [{s: "ŷ", it: 1}]}
	]}
})

drawPanel({
	id: "b", left: 678.3, right: 1162.5, top: 14.7, bottom: 383.3, ticks: swayWaveTicks,
	ylabel: "Sway - [m]", ylabelX: 628, captionX: 891, captionTag: "(b)",
	caption: "SWAY ESTIMATED WAVE POSITION.",
	series: [
		{data: swayWave, col: 1, color: blue},
		{data: swayWave, col: 2, color: orange, dash: dashDot}
	],
	legend: {x: 1079.5, y: 29.5, w: 68, h: 56, items: [
		{color: blue, parts: [{s: "y", it: 1}, {s: "w", it: 1, sub: 1}]},
		{color: orange, dash: dashDot, parts: [{s: "ŷ", it: 1}, {s: "w", it: 1, sub: 1}]}
	]}
})

drawPanel({
	id: "c", left: 76, right: 566, top: 502, bottom: 875.3, ticks: heaveTicks,
	ylabel: "Heave - [m]", ylabelX: 24, captionX: 298, captionTag: "(c)",
	caption: "HEAVE ESTIMATED POSITION.",
	series: [
		{data: heaveMeas, col: 1, color: blue},
		{data: heaveHat, col: 1, color: orange, dash: dashed}
	],
	legend: {x: 446, y: 516.5, w: 105, h: 56.5, items: [
		{color: blue, parts: [{s: "z", it: 1}, {s: " + "}, {s: "z", it: 1}, {s: "w", it: 1, sub: 1}]},
		{color: orange, dash: dashed, parts: [{s: "ẑ", it: 1}]}
	]}
})

drawPanel({
	id: "d", left: 678.3, right: 1162.5, top: 507.2, bottom: 876, ticks: heaveWaveTicks,
	ylabel: "Heave - [m]", ylabelX: 622, captionX: 894, captionTag: "(d)",
	caption: "HEAVE ESTIMATED WAVE POSITION.",
	series: [
		{data: heaveWave, col: 1, color: blue},
		{data: heaveWave, col: 2, color: orange, dash: dashDot}
	],
	legend: {x: 1079.5, y: 522.5, w: 68, h: 56, items: [
		{color: blue, parts: [{s: "z", it: 1}, {s: "w", it: 1, sub: 1}]},
		{color: orange, dash: dashDot, parts: [{s: "ẑ", it: 1}, {s: "w", it: 1, sub: 1}]}
	]}
})
</script>
</body>
</html>
